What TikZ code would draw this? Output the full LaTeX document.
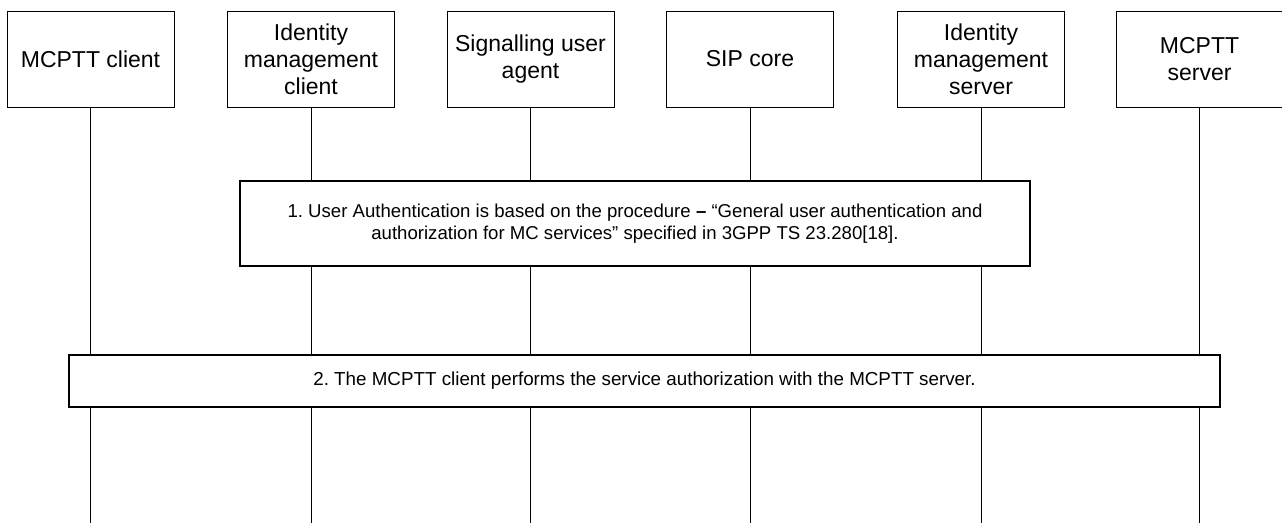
\documentclass[tikz,border=0pt]{standalone}
\usepackage{fontspec}
\setmainfont{Liberation Sans}
\frenchspacing
\begin{document}
\begin{tikzpicture}[x=1pt,y=-1pt,
        entity/.style={draw=black,line width=1pt,minimum width=167pt,minimum height=96pt,
            inner sep=0pt,align=center,font=\fontsize{23}{27}\selectfont},
        stepbox/.style={draw=black,line width=1.6pt,fill=white,inner sep=0pt,align=center},
        lifeline/.style={black,line width=0.8pt}]
    \useasboundingbox (0,0) rectangle (1282,523);
    \coordinate (bottom) at (0,523);
    \node[entity] (mcc) at (90.5,59) {MCPTT client};
    \node[entity] (idmc) at (311,59) {Identity\\management\\client};
    \node[entity] (sua) at (530.5,59) {Signalling user\\agent};
    \node[entity] (sip) at (750,59) {SIP core};
    \node[entity] (idms) at (981,59) {Identity\\management\\server};
    \node[entity] (mcs) at (1199.5,59) {MCPTT\\server};
    \foreach \p in {mcc,idmc,sua,sip,idms,mcs}
        \draw[lifeline] (\p.south) -- (\p.south |- bottom);
    \node[stepbox,minimum width=790pt,minimum height=85pt,font=\fontsize{18.6}{21.5}\selectfont]
        (auth) at (635,223.5)
        {1. User Authentication is based on the procedure \textbf{–} “General user authentication and\\
         authorization for MC services” specified in 3GPP TS 23.280[18].};
    \node[stepbox,minimum width=1151pt,minimum height=52pt,font=\fontsize{18.8}{22}\selectfont]
        (svcauth) at (644.5,381)
        {2. The MCPTT client performs the service authorization with the MCPTT server.};
\end{tikzpicture}
\end{document}
